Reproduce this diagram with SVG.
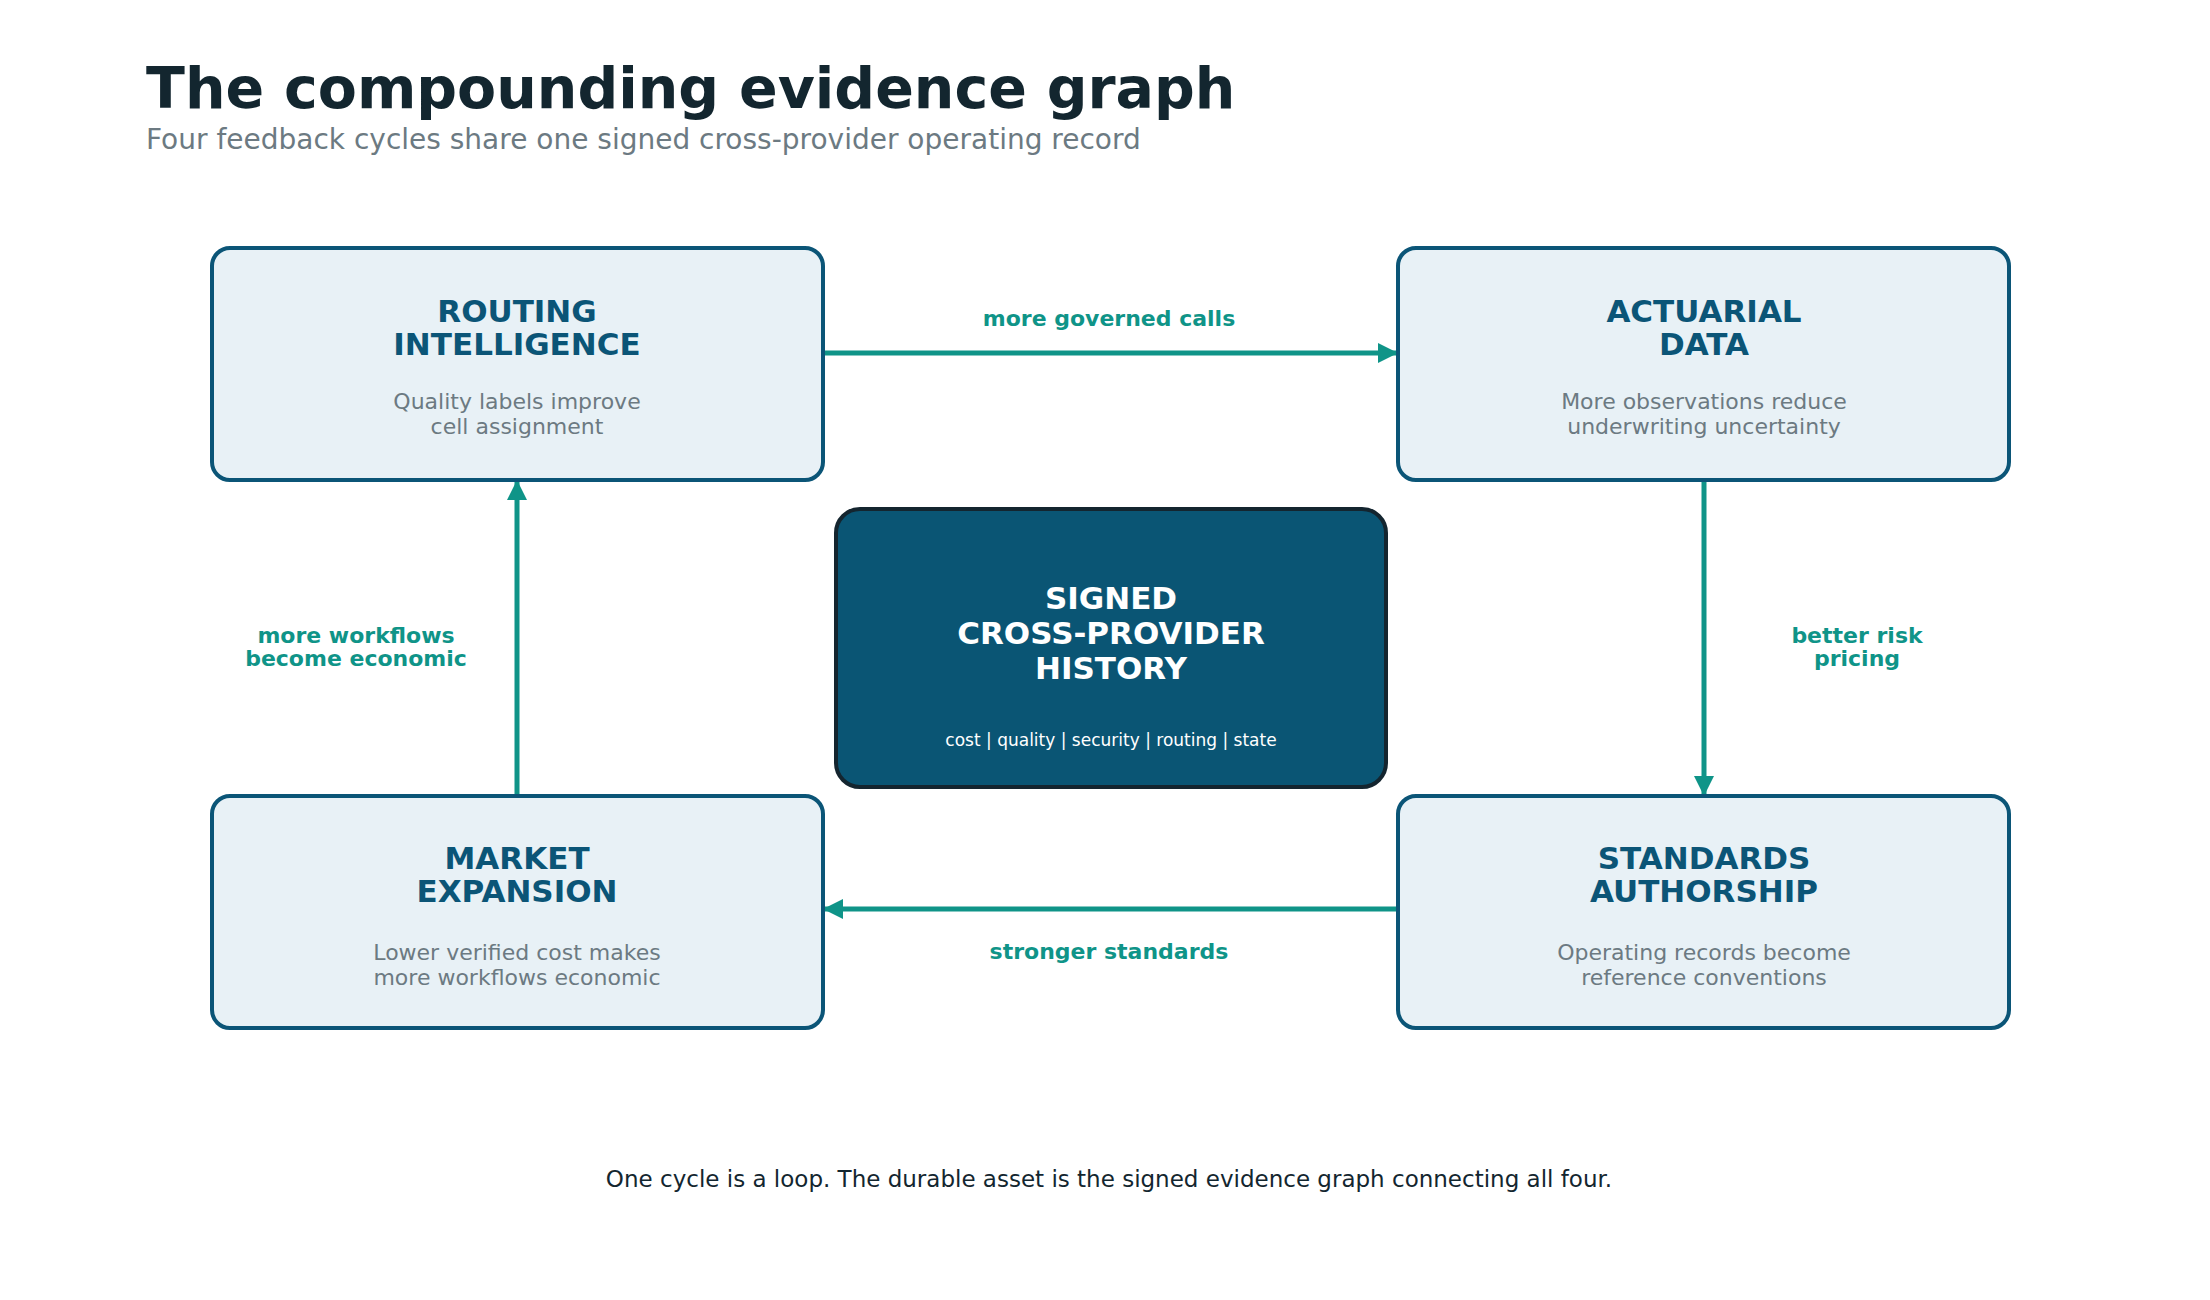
<svg xmlns="http://www.w3.org/2000/svg" width="2210" height="1300" viewBox="0 0 2210 1300">
<defs>
<style>
text{font-family:"DejaVu Sans","Noto Sans",sans-serif;text-anchor:middle}
.box{fill:#e8f1f6;stroke:#0b5577;stroke-width:4}
.t{font-size:31px;font-weight:bold;fill:#0b5577}
.d{font-size:22px;fill:#6c7a82}
.lbl{font-size:22px;font-weight:bold;fill:#0f9488}
.e{stroke:#0f9488;stroke-width:5;fill:none;marker-end:url(#ah)}
</style>
<marker id="ah" viewBox="0 0 10 10" refX="9" refY="5" markerWidth="4" markerHeight="4" orient="auto" markerUnits="strokeWidth"><path d="M0,0L10,5L0,10z" fill="#0f9488"/></marker>
</defs>
<rect width="2210" height="1300" fill="#fff"/>
<text x="146" y="108" style="text-anchor:start;font-size:57px;font-weight:bold;fill:#13262f">The compounding evidence graph</text>
<text x="146" y="149" style="text-anchor:start;font-size:28px;fill:#6c7a82">Four feedback cycles share one signed cross-provider operating record</text>
<g id="connectors">
<line class="e" x1="823" y1="353" x2="1396" y2="353"/>
<line class="e" x1="1704" y1="480" x2="1704" y2="794"/>
<line class="e" x1="1398" y1="909" x2="825" y2="909"/>
<line class="e" x1="517" y1="796" x2="517" y2="482"/>
<text class="lbl" x="1109" y="326">more governed calls</text>
<text class="lbl" x="1857" y="643">better risk</text>
<text class="lbl" x="1857" y="666">pricing</text>
<text class="lbl" x="1109" y="959">stronger standards</text>
<text class="lbl" x="356" y="643">more workflows</text>
<text class="lbl" x="356" y="666">become economic</text>
</g>
<g id="routing">
<rect class="box" x="212" y="248" width="611" height="232" rx="18"/>
<text class="t" x="517" y="322">ROUTING</text><text class="t" x="517" y="355">INTELLIGENCE</text>
<text class="d" x="517" y="409">Quality labels improve</text><text class="d" x="517" y="434">cell assignment</text>
</g>
<g id="actuarial">
<rect class="box" x="1398" y="248" width="611" height="232" rx="18"/>
<text class="t" x="1704" y="322">ACTUARIAL</text><text class="t" x="1704" y="355">DATA</text>
<text class="d" x="1704" y="409">More observations reduce</text><text class="d" x="1704" y="434">underwriting uncertainty</text>
</g>
<g id="market">
<rect class="box" x="212" y="796" width="611" height="232" rx="18"/>
<text class="t" x="517" y="869">MARKET</text><text class="t" x="517" y="902">EXPANSION</text>
<text class="d" x="517" y="960">Lower verified cost makes</text><text class="d" x="517" y="985">more workflows economic</text>
</g>
<g id="standards">
<rect class="box" x="1398" y="796" width="611" height="232" rx="18"/>
<text class="t" x="1704" y="869">STANDARDS</text><text class="t" x="1704" y="902">AUTHORSHIP</text>
<text class="d" x="1704" y="960">Operating records become</text><text class="d" x="1704" y="985">reference conventions</text>
</g>
<g id="history">
<rect x="836" y="509" width="550" height="278" rx="24" fill="#0a5574" stroke="#14252f" stroke-width="4"/>
<text x="1111" y="609" style="font-size:31px;font-weight:bold;fill:#fff">SIGNED</text>
<text x="1111" y="644" style="font-size:31px;font-weight:bold;fill:#fff">CROSS-PROVIDER</text>
<text x="1111" y="679" style="font-size:31px;font-weight:bold;fill:#fff">HISTORY</text>
<text x="1111" y="746" style="font-size:17px;fill:#fff">cost | quality | security | routing | state</text>
</g>
<text x="1109" y="1187" style="font-size:23px;fill:#13262f">One cycle is a loop. The durable asset is the signed evidence graph connecting all four.</text>
</svg>
